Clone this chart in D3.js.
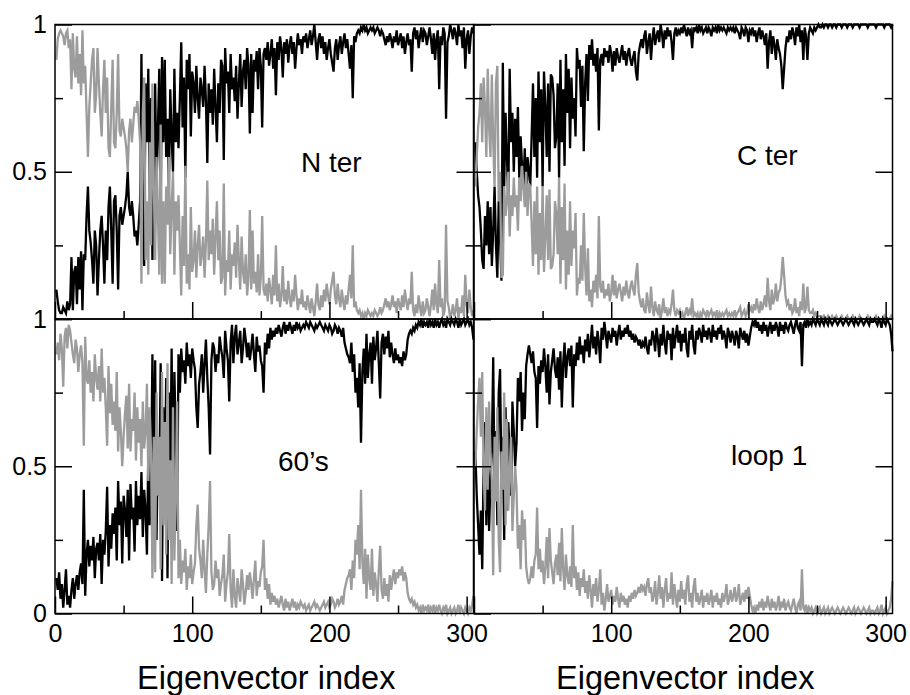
<!DOCTYPE html>
<html>
<head>
<meta charset="utf-8">
<script src="https://cdn.jsdelivr.net/npm/d3@7"></script>
<style>
  body { margin: 0; background: #fff; }
  text { font-family: "Liberation Sans", Arial, sans-serif; }
</style>
</head>
<body>
<script>
// index 1..305 on the x axis, one value per eigenvector
const nterBlack = [
  0.10,0.06,0.03,0.02,0.02,0.04,0.03,0.02,0.06,0.03,
  0.05,0.21,0.03,0.16,0.18,0.05,0.21,0.10,0.23,0.03,
  0.22,0.20,0.35,0.45,0.30,0.26,0.20,0.12,0.30,0.25,
  0.08,0.20,0.30,0.35,0.25,0.12,0.30,0.20,0.38,0.45,
  0.30,0.12,0.40,0.42,0.30,0.10,0.35,0.38,0.32,0.35,
  0.38,0.42,0.50,0.38,0.35,0.40,0.35,0.28,0.30,0.25,
  0.32,0.40,0.90,0.30,0.18,0.80,0.60,0.85,0.40,0.75,
  0.20,0.55,0.80,0.45,0.65,0.85,0.35,0.89,0.60,0.88,
  0.55,0.68,0.45,0.78,0.62,0.50,0.85,0.60,0.70,0.58,
  0.75,0.94,0.65,0.82,0.48,0.88,0.78,0.90,0.62,0.84,
  0.80,0.70,0.86,0.75,0.68,0.82,0.78,0.72,0.86,0.74,
  0.53,0.80,0.70,0.78,0.66,0.85,0.72,0.60,0.80,0.70,
  0.88,0.86,0.54,0.92,0.80,0.84,0.70,0.90,0.78,0.82,
  0.74,0.86,0.68,0.80,0.90,0.72,0.84,0.88,0.78,0.92,
  0.86,0.63,0.90,0.70,0.88,0.84,0.91,0.78,0.92,0.86,
  0.65,0.90,0.92,0.88,0.94,0.86,0.90,0.95,0.85,0.92,
  0.76,0.94,0.88,0.96,0.92,0.82,0.94,0.90,0.95,0.87,
  0.93,0.96,0.90,0.94,0.85,0.92,0.97,0.93,0.95,0.90,
  0.96,0.94,0.97,0.92,0.95,0.98,0.93,0.96,1.00,0.94,
  0.88,0.95,0.97,0.92,0.96,0.90,0.94,0.88,0.92,0.95,
  0.90,0.87,0.84,0.92,0.95,0.88,0.93,0.96,0.90,0.94,
  0.97,0.92,0.95,0.90,0.85,0.93,0.75,0.96,0.94,0.97,
  0.98,0.97,0.99,0.98,1.00,0.98,0.99,0.97,0.98,0.99,
  0.98,0.99,0.97,0.98,0.99,0.98,0.96,0.98,0.97,0.95,
  0.93,0.96,0.94,0.97,0.95,0.92,0.96,0.94,0.98,0.93,
  0.95,0.97,0.92,0.96,0.90,0.94,0.97,0.93,0.95,0.84,
  0.97,0.99,0.95,0.98,0.92,0.96,0.99,0.94,0.98,0.97,
  0.93,0.96,0.99,0.95,0.90,0.97,0.88,0.95,0.98,0.78,
  0.96,0.93,0.99,0.97,0.68,0.94,0.96,1.00,0.98,0.95,
  0.99,0.97,0.93,1.00,0.96,0.98,0.92,0.99,0.85,0.95,
  0.98,0.90,0.96,0.99,0.97
];
const nterGray = [
  0.88,0.95,0.97,0.98,0.97,0.96,0.93,0.97,0.98,0.92,
  0.95,0.78,0.97,0.85,0.82,0.96,0.80,0.90,0.76,0.98,
  0.80,0.86,0.70,0.55,0.72,0.80,0.88,0.92,0.70,0.76,
  0.92,0.80,0.70,0.62,0.78,0.88,0.70,0.82,0.58,0.55,
  0.72,0.88,0.60,0.58,0.70,0.90,0.64,0.62,0.68,0.65,
  0.62,0.58,0.50,0.64,0.68,0.60,0.66,0.72,0.70,0.74,
  0.68,0.60,0.12,0.70,0.82,0.20,0.40,0.15,0.60,0.25,
  0.80,0.45,0.20,0.55,0.35,0.15,0.66,0.12,0.40,0.12,
  0.45,0.32,0.55,0.22,0.38,0.50,0.15,0.40,0.30,0.42,
  0.25,0.08,0.35,0.18,0.52,0.12,0.22,0.10,0.38,0.16,
  0.20,0.30,0.14,0.25,0.32,0.18,0.22,0.28,0.14,0.26,
  0.47,0.20,0.30,0.22,0.34,0.15,0.28,0.40,0.20,0.30,
  0.12,0.14,0.46,0.08,0.20,0.16,0.30,0.10,0.22,0.18,
  0.26,0.14,0.32,0.20,0.10,0.28,0.16,0.12,0.22,0.08,
  0.14,0.37,0.10,0.30,0.12,0.16,0.09,0.22,0.08,0.14,
  0.35,0.10,0.08,0.12,0.06,0.14,0.10,0.05,0.15,0.08,
  0.25,0.06,0.12,0.04,0.08,0.18,0.06,0.10,0.05,0.13,
  0.07,0.04,0.10,0.06,0.15,0.08,0.03,0.07,0.05,0.10,
  0.04,0.06,0.03,0.08,0.05,0.02,0.07,0.04,0.01,0.06,
  0.12,0.05,0.03,0.08,0.04,0.10,0.06,0.12,0.08,0.05,
  0.10,0.13,0.16,0.08,0.05,0.12,0.07,0.04,0.10,0.06,
  0.03,0.08,0.05,0.10,0.15,0.07,0.25,0.04,0.06,0.03,
  0.02,0.03,0.01,0.02,0.00,0.02,0.01,0.03,0.02,0.01,
  0.02,0.01,0.03,0.02,0.01,0.02,0.04,0.02,0.03,0.05,
  0.07,0.04,0.06,0.03,0.05,0.08,0.04,0.06,0.02,0.07,
  0.05,0.03,0.08,0.04,0.10,0.06,0.03,0.07,0.05,0.16,
  0.03,0.01,0.05,0.02,0.08,0.04,0.01,0.06,0.02,0.03,
  0.07,0.04,0.01,0.05,0.10,0.03,0.12,0.05,0.02,0.20,
  0.04,0.07,0.01,0.03,0.32,0.06,0.04,0.00,0.02,0.05,
  0.01,0.03,0.07,0.00,0.04,0.02,0.08,0.01,0.15,0.05,
  0.02,0.10,0.04,0.01,0.03
];
const cterBlack = [
  0.60,0.50,0.42,0.38,0.30,0.20,0.17,0.35,0.25,0.40,
  0.22,0.38,0.18,0.30,0.45,0.25,0.14,0.40,0.28,0.13,
  0.87,0.45,0.70,0.55,0.40,0.85,0.60,0.70,0.50,0.68,
  0.55,0.72,0.48,0.62,0.52,0.45,0.58,0.40,0.55,0.50,
  0.45,0.62,0.80,0.55,0.75,0.48,0.84,0.60,0.78,0.45,
  0.84,0.72,0.55,0.80,0.50,0.83,0.82,0.76,0.58,0.62,
  0.80,0.48,0.88,0.60,0.78,0.52,0.90,0.70,0.85,0.58,
  0.82,0.68,0.75,0.62,0.92,0.85,0.88,0.72,0.86,0.57,
  0.80,0.90,0.74,0.93,0.88,0.95,0.86,0.90,0.84,0.92,
  0.64,0.88,0.90,0.86,0.92,0.89,0.91,0.87,0.93,0.90,
  0.84,0.91,0.86,0.92,0.89,0.87,0.90,0.93,0.88,0.91,
  0.86,0.90,0.92,0.88,0.86,0.89,0.91,0.84,0.81,0.90,
  0.93,0.95,0.92,0.96,0.98,0.90,0.94,0.97,0.88,0.95,
  0.99,0.93,0.96,0.98,0.94,1.00,0.97,0.92,0.98,0.95,
  0.99,0.96,0.98,0.94,0.88,0.97,0.99,0.96,0.98,0.97,
  0.99,0.97,1.00,0.98,0.96,0.99,0.97,0.98,0.92,0.99,
  0.98,0.99,0.97,1.00,0.98,0.99,0.97,0.98,0.99,0.97,
  0.99,0.98,0.96,0.99,0.98,0.99,0.97,1.00,0.98,0.99,
  0.98,0.99,0.98,0.97,0.99,0.98,0.99,0.98,0.99,0.97,
  0.99,0.98,0.97,0.95,0.99,0.98,0.96,0.99,0.98,0.94,
  0.98,0.97,0.99,0.96,0.98,0.94,0.97,0.99,0.95,0.98,
  0.96,0.93,0.97,0.85,0.94,0.98,0.90,0.96,0.93,0.88,
  0.95,0.92,0.90,0.86,0.78,0.85,0.92,0.96,0.94,0.98,
  0.95,0.99,0.97,0.93,0.99,0.96,1.00,0.94,0.98,0.88,
  0.99,0.96,0.88,0.97,0.99,0.98,0.97,0.99,0.98,0.99,
  1.00,0.99,0.99,1.00,0.99,1.00,1.00,0.99,1.00,1.00,
  0.99,1.00,1.00,0.99,1.00,1.00,1.00,0.99,1.00,1.00,
  1.00,0.99,1.00,1.00,1.00,0.99,1.00,1.00,1.00,1.00,
  0.99,1.00,1.00,1.00,1.00,1.00,0.99,1.00,1.00,1.00,
  1.00,1.00,0.99,1.00,1.00,1.00,1.00,1.00,0.99,1.00,
  1.00,1.00,1.00,0.99,1.00
];
const cterGray = [
  0.45,0.55,0.65,0.70,0.80,0.60,0.82,0.72,0.55,0.85,
  0.65,0.55,0.83,0.60,0.45,0.80,0.86,0.40,0.50,0.14,
  0.15,0.45,0.35,0.40,0.50,0.28,0.42,0.35,0.48,0.38,
  0.42,0.30,0.48,0.40,0.52,0.45,0.38,0.50,0.35,0.46,
  0.45,0.32,0.18,0.40,0.22,0.45,0.15,0.36,0.20,0.45,
  0.16,0.28,0.42,0.20,0.44,0.17,0.18,0.22,0.40,0.36,
  0.22,0.48,0.12,0.38,0.20,0.46,0.10,0.30,0.15,0.40,
  0.18,0.30,0.24,0.36,0.08,0.14,0.12,0.25,0.13,0.36,
  0.18,0.08,0.24,0.06,0.10,0.04,0.13,0.09,0.15,0.07,
  0.35,0.11,0.09,0.13,0.07,0.10,0.08,0.12,0.06,0.09,
  0.15,0.08,0.13,0.07,0.10,0.12,0.09,0.06,0.11,0.08,
  0.13,0.09,0.07,0.11,0.13,0.10,0.08,0.15,0.19,0.09,
  0.06,0.04,0.07,0.03,0.02,0.09,0.05,0.02,0.11,0.04,
  0.01,0.06,0.03,0.02,0.05,0.00,0.03,0.07,0.02,0.04,
  0.01,0.03,0.02,0.05,0.10,0.03,0.01,0.03,0.02,0.03,
  0.01,0.02,0.00,0.02,0.04,0.01,0.03,0.02,0.07,0.01,
  0.02,0.01,0.02,0.00,0.02,0.01,0.03,0.02,0.01,0.03,
  0.01,0.02,0.03,0.01,0.02,0.01,0.03,0.00,0.02,0.01,
  0.02,0.01,0.02,0.03,0.01,0.02,0.01,0.02,0.01,0.03,
  0.01,0.02,0.03,0.04,0.01,0.02,0.03,0.01,0.02,0.05,
  0.03,0.04,0.02,0.05,0.03,0.07,0.04,0.02,0.06,0.03,
  0.05,0.08,0.04,0.14,0.06,0.03,0.10,0.05,0.07,0.12,
  0.06,0.09,0.10,0.14,0.21,0.15,0.08,0.05,0.06,0.03,
  0.05,0.02,0.03,0.07,0.02,0.04,0.01,0.06,0.03,0.12,
  0.02,0.04,0.11,0.03,0.02,0.02,0.03,0.01,0.02,0.01,
  0.01,0.01,0.01,0.00,0.01,0.00,0.00,0.01,0.00,0.00,
  0.01,0.00,0.00,0.01,0.00,0.00,0.00,0.01,0.00,0.00,
  0.00,0.01,0.00,0.00,0.00,0.01,0.00,0.00,0.00,0.00,
  0.01,0.00,0.00,0.00,0.00,0.00,0.01,0.00,0.00,0.00,
  0.00,0.00,0.01,0.00,0.00,0.00,0.00,0.00,0.01,0.00,
  0.00,0.00,0.00,0.01,0.00
];
const sixtiesBlack = [
  0.12,0.08,0.14,0.05,0.10,0.02,0.08,0.15,0.03,0.06,
  0.02,0.08,0.12,0.05,0.10,0.13,0.08,0.14,0.17,0.10,
  0.42,0.06,0.20,0.25,0.16,0.23,0.18,0.26,0.12,0.22,
  0.24,0.18,0.27,0.10,0.25,0.20,0.28,0.43,0.16,0.30,
  0.22,0.34,0.27,0.36,0.18,0.45,0.30,0.38,0.17,0.40,
  0.35,0.26,0.42,0.18,0.44,0.32,0.36,0.21,0.45,0.30,
  0.40,0.32,0.48,0.26,0.42,0.35,0.20,0.55,0.30,0.45,
  0.88,0.40,0.86,0.25,0.60,0.40,0.85,0.11,0.70,0.35,
  0.80,0.12,0.75,0.48,0.90,0.30,0.82,0.60,0.28,0.88,
  0.75,0.90,0.82,0.86,0.78,0.92,0.84,0.88,0.80,0.90,
  0.86,0.83,0.70,0.63,0.78,0.82,0.88,0.75,0.85,0.93,
  0.80,0.70,0.54,0.86,0.92,0.90,0.82,0.88,0.85,0.94,
  0.90,0.87,0.80,0.96,0.90,0.86,0.72,0.92,0.98,0.85,
  0.94,0.98,0.88,0.92,0.96,0.85,0.90,0.97,0.93,0.87,
  0.92,0.86,0.90,0.95,0.88,0.82,0.94,0.89,0.91,0.86,
  0.84,0.75,0.92,0.88,0.95,0.90,0.97,0.93,0.96,0.94,
  0.97,0.95,0.98,0.96,0.94,0.97,0.99,0.95,0.98,0.96,
  0.99,0.97,0.95,0.98,0.96,0.99,0.97,0.98,0.96,0.97,
  0.98,0.97,0.99,0.98,0.97,0.99,0.98,0.97,0.96,0.98,
  0.97,0.98,0.99,0.98,0.97,0.96,0.98,0.97,0.96,0.98,
  0.97,0.95,0.96,0.98,0.97,0.95,0.97,0.96,0.94,0.97,
  0.92,0.90,0.88,0.87,0.85,0.92,0.82,0.88,0.75,0.80,
  0.70,0.85,0.58,0.82,0.90,0.78,0.95,0.80,0.88,0.92,
  0.78,0.94,0.86,0.90,0.96,0.85,0.73,0.92,0.95,0.88,
  0.94,0.90,0.96,0.87,0.92,0.88,0.85,0.90,0.86,0.88,
  0.85,0.87,0.84,0.89,0.86,0.88,0.93,0.95,0.96,0.95,
  0.97,0.96,0.98,0.97,0.99,0.98,1.00,0.97,0.99,0.98,
  0.99,0.97,1.00,0.98,0.99,0.97,1.00,0.98,0.99,0.97,
  0.99,1.00,0.98,0.99,0.97,1.00,0.99,0.98,1.00,0.99,
  0.98,1.00,0.99,0.97,1.00,0.98,0.99,1.00,0.98,0.99,
  1.00,0.98,0.99,0.97,0.93
];
const sixtiesGray = [
  0.88,0.92,0.86,0.95,0.90,0.77,0.94,0.97,0.90,0.98,
  0.96,0.92,0.88,0.85,0.93,0.90,0.82,0.88,0.91,0.85,
  0.57,0.94,0.80,0.78,0.86,0.75,0.82,0.72,0.88,0.80,
  0.76,0.84,0.72,0.90,0.75,0.80,0.70,0.57,0.84,0.68,
  0.78,0.64,0.72,0.62,0.82,0.55,0.70,0.62,0.50,0.60,
  0.68,0.74,0.56,0.78,0.55,0.66,0.62,0.75,0.52,0.70,
  0.58,0.66,0.50,0.72,0.56,0.62,0.78,0.45,0.70,0.55,
  0.12,0.60,0.14,0.75,0.40,0.60,0.15,0.82,0.30,0.65,
  0.20,0.85,0.25,0.52,0.10,0.70,0.18,0.40,0.72,0.12,
  0.25,0.10,0.18,0.14,0.22,0.08,0.16,0.12,0.20,0.10,
  0.14,0.17,0.30,0.37,0.22,0.18,0.12,0.25,0.15,0.07,
  0.20,0.30,0.45,0.14,0.08,0.10,0.18,0.12,0.15,0.06,
  0.10,0.13,0.20,0.04,0.10,0.14,0.27,0.08,0.02,0.15,
  0.06,0.02,0.12,0.08,0.04,0.15,0.10,0.03,0.07,0.13,
  0.08,0.14,0.10,0.05,0.12,0.18,0.06,0.11,0.09,0.14,
  0.16,0.25,0.08,0.12,0.05,0.10,0.03,0.07,0.04,0.06,
  0.03,0.05,0.02,0.04,0.06,0.03,0.01,0.05,0.02,0.04,
  0.01,0.03,0.05,0.02,0.04,0.01,0.03,0.02,0.04,0.03,
  0.02,0.03,0.01,0.02,0.03,0.01,0.02,0.03,0.04,0.02,
  0.03,0.02,0.01,0.02,0.03,0.04,0.02,0.03,0.04,0.02,
  0.03,0.05,0.04,0.02,0.03,0.05,0.03,0.04,0.06,0.03,
  0.08,0.10,0.12,0.13,0.15,0.08,0.18,0.12,0.25,0.20,
  0.30,0.15,0.42,0.18,0.10,0.22,0.05,0.20,0.12,0.08,
  0.22,0.06,0.14,0.10,0.04,0.15,0.23,0.08,0.05,0.12,
  0.06,0.10,0.04,0.13,0.08,0.12,0.15,0.10,0.14,0.12,
  0.15,0.13,0.16,0.11,0.14,0.12,0.07,0.05,0.04,0.05,
  0.03,0.04,0.02,0.03,0.01,0.02,0.00,0.03,0.01,0.02,
  0.01,0.03,0.00,0.02,0.01,0.03,0.00,0.02,0.01,0.03,
  0.01,0.00,0.02,0.01,0.03,0.00,0.01,0.02,0.00,0.01,
  0.02,0.00,0.01,0.03,0.00,0.02,0.01,0.00,0.02,0.01,
  0.00,0.02,0.01,0.03,0.06
];
const loop1Black = [
  0.55,0.40,0.30,0.20,0.35,0.15,0.50,0.65,0.30,0.60,
  0.28,0.45,0.55,0.87,0.40,0.62,0.30,0.75,0.83,0.45,
  0.60,0.25,0.70,0.35,0.65,0.55,0.40,0.72,0.62,0.50,
  0.58,0.80,0.72,0.82,0.62,0.75,0.66,0.84,0.88,0.91,
  0.88,0.85,0.89,0.82,0.80,0.63,0.84,0.78,0.86,0.82,
  0.90,0.84,0.75,0.88,0.71,0.82,0.86,0.90,0.83,0.80,
  0.87,0.76,0.89,0.70,0.85,0.92,0.80,0.87,0.90,0.84,
  0.91,0.70,0.88,0.84,0.92,0.86,0.94,0.88,0.91,0.85,
  0.93,0.89,0.95,0.87,0.92,0.98,0.90,0.94,0.88,0.96,
  0.92,0.85,0.97,0.93,0.99,0.95,0.90,0.96,0.94,0.92,
  0.97,0.94,0.96,0.91,0.95,0.98,0.93,0.96,0.94,0.97,
  0.95,0.98,0.94,0.96,0.93,0.95,0.92,0.94,0.93,0.91,
  0.93,0.90,0.92,0.91,0.94,0.90,0.88,0.93,0.91,0.96,
  0.94,0.89,0.97,0.93,0.87,0.95,0.91,0.98,0.92,0.88,
  0.96,0.93,0.95,0.86,0.97,0.90,0.94,0.98,0.92,0.96,
  0.89,0.95,0.92,0.97,0.90,0.87,0.96,0.93,0.98,0.91,
  0.88,0.96,0.93,0.97,0.95,0.92,0.98,0.94,0.96,0.93,
  0.97,0.95,0.92,0.98,0.94,0.96,0.93,0.97,0.95,0.98,
  0.93,0.96,0.94,0.90,0.97,0.95,0.92,0.96,0.94,0.91,
  0.96,0.94,0.90,0.97,0.95,0.93,0.96,0.92,0.95,0.91,
  0.94,0.97,0.99,0.98,1.00,0.97,0.99,0.96,0.98,0.95,
  0.99,0.96,0.98,0.94,0.97,0.99,0.95,0.98,0.96,0.99,
  0.97,0.94,0.99,0.96,0.98,0.95,0.99,0.97,0.96,0.98,
  0.99,0.97,0.95,0.98,1.00,0.97,0.96,0.99,0.84,0.98,
  0.99,0.97,1.00,0.98,0.99,0.98,1.00,0.99,0.98,1.00,
  0.99,0.98,1.00,0.99,0.98,1.00,0.99,0.98,1.00,0.99,
  0.98,0.99,1.00,0.99,0.98,0.99,1.00,0.99,0.98,0.99,
  1.00,0.99,0.98,0.99,1.00,0.99,0.98,1.00,0.99,0.98,
  0.99,1.00,0.99,0.98,0.99,1.00,0.99,0.98,1.00,0.99,
  0.99,1.00,0.99,0.98,1.00,0.99,0.97,1.00,0.99,0.98,
  1.00,0.99,0.98,0.95,0.89
];
const loop1Gray = [
  0.50,0.62,0.72,0.80,0.60,0.82,0.48,0.35,0.70,0.42,
  0.72,0.55,0.45,0.13,0.60,0.38,0.70,0.25,0.14,0.55,
  0.42,0.75,0.30,0.66,0.35,0.48,0.60,0.28,0.40,0.50,
  0.42,0.22,0.30,0.15,0.35,0.25,0.32,0.16,0.12,0.10,
  0.12,0.16,0.12,0.18,0.20,0.36,0.15,0.22,0.14,0.18,
  0.10,0.16,0.26,0.12,0.29,0.18,0.14,0.10,0.17,0.20,
  0.13,0.24,0.11,0.29,0.15,0.08,0.20,0.13,0.10,0.16,
  0.09,0.30,0.12,0.16,0.08,0.14,0.06,0.12,0.09,0.15,
  0.07,0.11,0.05,0.13,0.08,0.02,0.10,0.06,0.12,0.04,
  0.08,0.15,0.03,0.07,0.01,0.05,0.10,0.04,0.06,0.08,
  0.03,0.06,0.04,0.09,0.05,0.02,0.07,0.04,0.06,0.03,
  0.05,0.02,0.06,0.04,0.07,0.05,0.08,0.06,0.07,0.09,
  0.07,0.10,0.08,0.09,0.06,0.10,0.12,0.07,0.09,0.04,
  0.06,0.11,0.03,0.07,0.13,0.05,0.09,0.02,0.08,0.12,
  0.04,0.07,0.05,0.14,0.03,0.10,0.06,0.02,0.08,0.04,
  0.11,0.05,0.08,0.03,0.10,0.13,0.04,0.07,0.02,0.09,
  0.12,0.04,0.07,0.03,0.05,0.08,0.02,0.06,0.04,0.07,
  0.03,0.05,0.08,0.02,0.06,0.04,0.07,0.03,0.05,0.02,
  0.07,0.04,0.06,0.10,0.03,0.05,0.08,0.04,0.06,0.09,
  0.04,0.06,0.10,0.03,0.05,0.07,0.04,0.08,0.05,0.09,
  0.06,0.03,0.01,0.02,0.00,0.03,0.01,0.04,0.02,0.05,
  0.01,0.04,0.02,0.06,0.03,0.01,0.05,0.02,0.04,0.01,
  0.03,0.06,0.01,0.04,0.02,0.05,0.01,0.03,0.04,0.02,
  0.01,0.03,0.05,0.02,0.00,0.03,0.04,0.01,0.15,0.02,
  0.01,0.03,0.00,0.02,0.01,0.02,0.00,0.01,0.02,0.00,
  0.01,0.02,0.00,0.01,0.02,0.00,0.01,0.02,0.00,0.01,
  0.02,0.01,0.00,0.01,0.02,0.01,0.00,0.01,0.02,0.01,
  0.00,0.01,0.02,0.01,0.00,0.01,0.02,0.00,0.01,0.02,
  0.01,0.00,0.01,0.02,0.01,0.00,0.01,0.02,0.00,0.01,
  0.01,0.00,0.01,0.02,0.00,0.01,0.03,0.00,0.01,0.02,
  0.00,0.01,0.02,0.05,0.11
];

const panelNames = ["N ter", "C ter", "60\u2019s", "loop 1"];
const xMajorTicks = [0, 100, 200, 300];
const xMinorTicks = [50, 150, 250];
const yMajorTicks = [0, 0.5, 1];
const yMinorTicks = [0.25, 0.75];
const xTitle = "Eigenvector index";

const width = 910, height = 695;
const colX = [55, 474];
const rowY = [24.5, 319];
const pw = 418.5, ph = 294.5;

const svg = d3.select("body").append("svg")
  .attr("width", width)
  .attr("height", height);

const panels = [
  {name: panelNames[0], black: nterBlack, gray: nterGray, col: 0, row: 0},
  {name: panelNames[1], black: cterBlack, gray: cterGray, col: 1, row: 0},
  {name: panelNames[2], black: sixtiesBlack, gray: sixtiesGray, col: 0, row: 1},
  {name: panelNames[3], black: loop1Black, gray: loop1Gray, col: 1, row: 1}
];
// where the panel name sits (left x, baseline y)
const namePos = [[301, 172], [737, 165], [278, 471], [731, 465]];

panels.forEach((p, k) => {
  const x0 = colX[p.col], y0 = rowY[p.row];
  const x = d3.scaleLinear().domain([0, 305]).range([x0, x0 + pw]);
  const y = d3.scaleLinear().domain([0, 1]).range([y0 + ph, y0]);
  const g = svg.append("g");

  const line = d3.line()
    .x((d, i) => x(i + 1))
    .y(d => y(d));

  g.append("path")
    .datum(p.black)
    .attr("d", line)
    .attr("fill", "none")
    .attr("stroke", "#000")
    .attr("stroke-width", 2.3);

  g.append("path")
    .datum(p.gray)
    .attr("d", line)
    .attr("fill", "none")
    .attr("stroke", "#9c9c9c")
    .attr("stroke-width", 2.3);

  g.append("rect")
    .attr("x", x0).attr("y", y0)
    .attr("width", pw).attr("height", ph)
    .attr("fill", "none")
    .attr("stroke", "#000")
    .attr("stroke-width", 1.5);

  // x labels only on the bottom row; right panel skips its 0 (sits under the 300)
  const xLabels = p.row === 1 ? (p.col === 0 ? [0, 100, 200, 300] : [100, 200, 300]) : [];
  const xMajor = d3.axisBottom(x).tickValues(xMajorTicks)
    .tickSizeInner(-17).tickSizeOuter(0).tickPadding(11)
    .tickFormat(d => xLabels.includes(d) ? d : "");
  const xMinor = d3.axisBottom(x).tickValues(xMinorTicks)
    .tickSizeInner(-8).tickSizeOuter(0).tickFormat("");

  const yLabels = p.col === 0 ? (p.row === 0 ? [0.5, 1] : [0, 0.5, 1]) : [];
  const yMajor = d3.axisLeft(y).tickValues(yMajorTicks)
    .tickSizeInner(-17).tickSizeOuter(0).tickPadding(8)
    .tickFormat(d => yLabels.includes(d) ? (d === 0.5 ? "0.5" : d) : "");
  const yMinor = d3.axisLeft(y).tickValues(yMinorTicks)
    .tickSizeInner(-8).tickSizeOuter(0).tickFormat("");
  const yMajorR = d3.axisRight(y).tickValues([0.5])
    .tickSizeInner(-17).tickSizeOuter(0).tickFormat("");
  const yMinorR = d3.axisRight(y).tickValues(yMinorTicks)
    .tickSizeInner(-8).tickSizeOuter(0).tickFormat("");

  const axes = [
    [xMajor, `translate(0,${y0 + ph})`],
    [xMinor, `translate(0,${y0 + ph})`],
    [yMajor, `translate(${x0},0)`],
    [yMinor, `translate(${x0},0)`],
    [yMajorR, `translate(${x0 + pw},0)`],
    [yMinorR, `translate(${x0 + pw},0)`]
  ];
  axes.forEach(([ax, tr]) => {
    const a = g.append("g").attr("transform", tr).call(ax);
    a.select(".domain").remove();
    a.selectAll("line").attr("stroke", "#000").attr("stroke-width", 1.5);
    a.selectAll("text")
      .attr("fill", "#000")
      .style("font-family", "'Liberation Sans', Arial, sans-serif")
      .style("font-size", "25px");
  });

  g.append("text")
    .attr("x", namePos[k][0])
    .attr("y", namePos[k][1])
    .style("font-size", "28px")
    .attr("fill", "#000")
    .text(p.name);

  if (p.row === 1) {
    svg.append("text")
      .attr("x", x0 + pw / 2 + 2)
      .attr("y", 689)
      .attr("text-anchor", "middle")
      .style("font-size", "32.5px")
      .attr("fill", "#000")
      .text(xTitle);
  }
});
</script>
</body>
</html>
